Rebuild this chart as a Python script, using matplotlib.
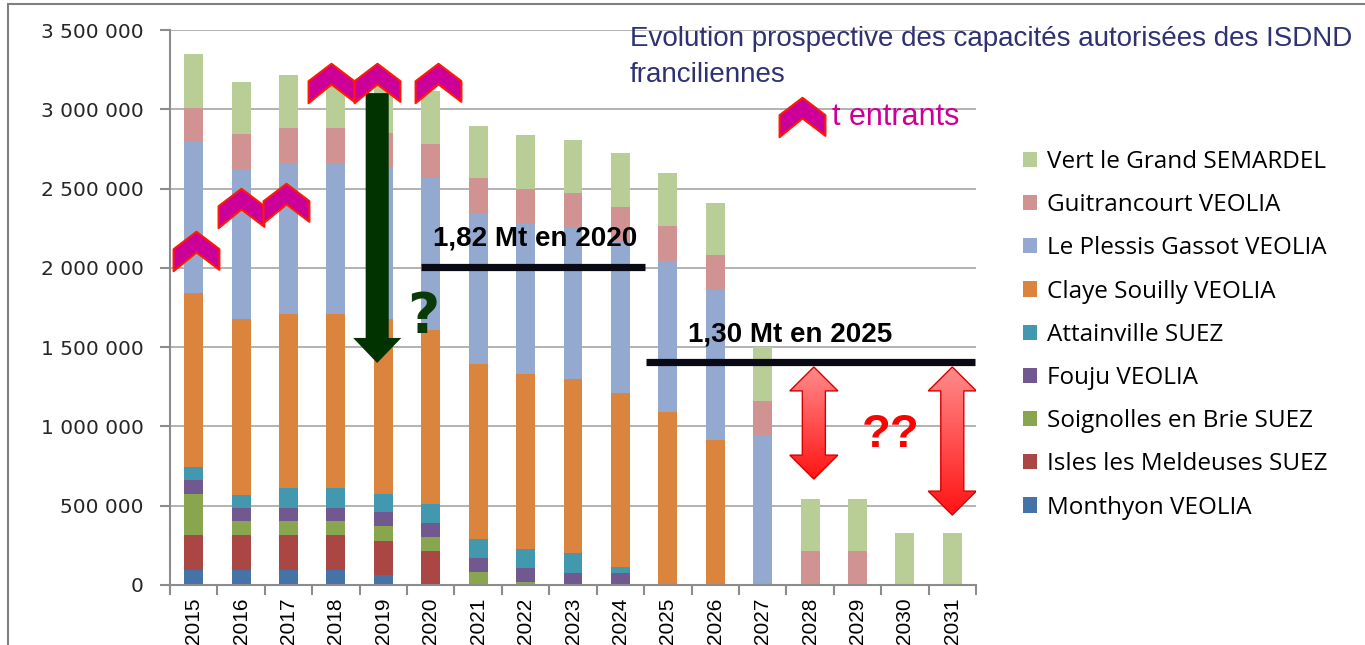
"""Evolution prospective des capacités autorisées des ISDND franciliennes."""
import numpy as np
import matplotlib; matplotlib.use('Agg')
import matplotlib.pyplot as plt
from matplotlib.patches import Patch, Polygon, Rectangle
from matplotlib.path import Path
from matplotlib.colors import LinearSegmentedColormap
from matplotlib.ticker import FuncFormatter


# ──────────────────────────────────────────────────────────────────────
# données (t/an), de bas en haut dans la pile
# ──────────────────────────────────────────────────────────────────────
years = [str(y) for y in range(2015, 2032)]

monthyon     = [95000, 95000, 95000, 95000, 63000, 0, 0, 0, 0, 0, 0, 0, 0, 0, 0, 0, 0]
isles        = [220000, 220000, 220000, 220000, 216000, 216000, 0, 0, 0, 0, 0, 0, 0, 0, 0, 0, 0]
soignolles   = [260000, 89000, 89000, 89000, 93000, 84000, 84000, 21000, 0, 0, 0, 0, 0, 0, 0, 0, 0]
fouju        = [88000, 83000, 83000, 83000, 88000, 89000, 88000, 88000, 78000, 78000, 0, 0, 0, 0, 0, 0, 0]
attainville  = [78000, 79000, 125000, 125000, 116000, 122000, 116000, 120000, 122000, 35000, 0, 0, 0, 0, 0, 0, 0]
claye        = [1100000, 1109000, 1097000, 1097000, 1101000, 1097000, 1105000, 1102000, 1099000, 1099000,
                1091000, 914000, 0, 0, 0, 0, 0]
plessis      = [955000, 946000, 954000, 954000, 952000, 956000, 946000, 954000, 950000, 953000,
                954000, 946000, 946000, 0, 0, 0, 0]
guitrancourt = [214000, 223000, 217000, 217000, 219000, 217000, 225000, 212000, 221000, 218000,
                218000, 221000, 216000, 214000, 214000, 0, 0]
vert         = [337000, 329000, 337000, 337000, 330000, 334000, 330000, 340000, 338000, 339000,
                337000, 330000, 337000, 328000, 328000, 330000, 330000]

names = ['Monthyon VEOLIA', 'Isles les Meldeuses SUEZ', 'Soignolles en Brie SUEZ',
         'Fouju VEOLIA', 'Attainville SUEZ', 'Claye Souilly VEOLIA',
         'Le Plessis Gassot VEOLIA', 'Guitrancourt VEOLIA', 'Vert le Grand SEMARDEL']
values = [monthyon, isles, soignolles, fouju, attainville, claye, plessis, guitrancourt, vert]
colors = ['#4572A7', '#AA4643', '#89A54E', '#71588F', '#4198AF', '#DB843D',
          '#93A9CF', '#D19392', '#B9CD96']

# annotations (position en années / tonnes)
chevron_pos = [(0.04, 2106000), (1.0, 2377000), (1.94, 2409000),
               (2.90, 3166000), (3.87, 3166000), (5.16, 3166000)]
legend_chevron = (12.82, 2951000)
seuils = [('1,82 Mt en 2020', 4.80, 9.52, 2007000, 5.04, 2144000),
          ('1,30 Mt en 2025', 9.54, 16.48, 1408000, 10.42, 1534000)]


W, H = 1365, 645
fig = plt.figure(figsize=(W / 100, H / 100), dpi=100)
ax = fig.add_axes([170 / W, (H - 585) / H, (976 - 170) / W, (585 - 30) / H])

x = np.arange(len(years))
bottom = np.zeros(len(years))
for name, vals, c in zip(names, values, colors):
    ax.bar(x, vals, width=0.4, bottom=bottom, color=c, linewidth=0, label=name, zorder=2)
    bottom += np.array(vals)

ax.set_xlim(-0.5, len(years) - 0.5)
ax.set_ylim(0, 3500000)
ax.set_yticks(np.arange(0, 3500001, 500000))
ax.yaxis.set_major_formatter(FuncFormatter(lambda v, p: f'{int(v):,}'.replace(',', ' ')))
ax.yaxis.grid(True, color='#A6A6A6', lw=1.2, zorder=0)
ax.set_axisbelow(True)
for s in ['top', 'right']:
    ax.spines[s].set_visible(False)
for s in ['left', 'bottom']:
    ax.spines[s].set_color('#8C8C8C'); ax.spines[s].set_linewidth(1.5)

ax.set_xticks(x)
ax.set_xticklabels(years, rotation=90, fontsize=15, family='Liberation Sans', va='top')
ax.set_xticks(np.arange(-0.5, len(years), 1), minor=True)
ax.tick_params(axis='x', which='major', length=0, pad=9)
ax.tick_params(axis='x', which='minor', length=7, color='#8C8C8C', width=1.5)
ax.tick_params(axis='y', length=7, color='#8C8C8C', width=1.5, pad=12, labelsize=14.5,
               labelcolor='#262626')

# ── chevrons "t entrants"
chev = Path([(-0.5, 0.05), (0, 0.43), (0.5, 0.05), (0.5, -0.40), (0, -0.02), (-0.5, -0.43), (-0.5, 0.05)],
            [Path.MOVETO] + [Path.LINETO] * 5 + [Path.CLOSEPOLY])
cx, cy = zip(*(chevron_pos + [legend_chevron]))
ax.plot(cx, cy, ls='none', marker=chev, markersize=33, mfc='#CC0099', mec='#FF1A00',
        mew=1.5, zorder=8, clip_on=False)


def arrow_verts(xc, yt, yb, shaft, head, hl_top, hl_bot):
    v = []
    if hl_top:
        v += [(xc, yt), (xc + head, yt - hl_top), (xc + shaft, yt - hl_top)]
    else:
        v += [(xc - shaft, yt), (xc + shaft, yt)]
    v += [(xc + shaft, yb + hl_bot), (xc + head, yb + hl_bot), (xc, yb),
          (xc - head, yb + hl_bot), (xc - shaft, yb + hl_bot)]
    if hl_top:
        v += [(xc - shaft, yt - hl_top), (xc - head, yt - hl_top)]
    return v


# ── flèche verte + "?"
ax.add_patch(Polygon(arrow_verts(3.87, 3102000, 1400000, 0.243, 0.507, 0, 158000),
                     closed=True, fc='#003300', ec='none', zorder=7))
ax.text(4.85, 1690000, '?', color='#0A3A0A', fontsize=40, fontweight='bold',
        family='DejaVu Sans', ha='center', va='center', zorder=7)

# ── seuils
for lbl, x0, x1, yv, tx, ty in seuils:
    ax.plot([x0, x1], [yv, yv], color='#0A0A14', lw=5.2, solid_capstyle='butt', zorder=6)
    ax.text(tx, ty, lbl, fontsize=20, fontweight='bold', family='Liberation Sans',
            ha='left', va='baseline', zorder=6)

# ── doubles flèches rouges (dégradé)
red_cmap = LinearSegmentedColormap.from_list('rouge', ['#FF8C8C', '#FF1414'])
grad = np.linspace(0, 1, 256).reshape(-1, 1)
for xc, yb in [(13.08, 668000), (16.0, 441000)]:
    poly = Polygon(arrow_verts(xc, 1375000, yb, 0.243, 0.507, 151000, 151000),
                   closed=True, fc='none', ec='#D80000', lw=1, zorder=7)
    ax.add_patch(poly)
    im = ax.imshow(grad, cmap=red_cmap, extent=[xc - 0.51, xc + 0.51, yb, 1375000],
                   origin='upper', aspect='auto', zorder=6)
    im.set_clip_path(poly)
ax.text(14.7, 946000, '??', color='#FF0000', fontsize=34, fontweight='bold',
        family='Liberation Sans', ha='center', va='center', zorder=7)

ax.set_xlim(-0.5, len(years) - 0.5)
ax.set_ylim(0, 3500000)

# ── titre
navy = '#2E3272'
fig.text(630 / W, 1 - 46 / H, 'Evolution prospective des capacités autorisées des ISDND',
         fontsize=20, color=navy, family='Liberation Sans', va='baseline')
fig.text(630 / W, 1 - 82 / H, 'franciliennes', fontsize=20, color=navy,
         family='Liberation Sans', va='baseline')
fig.text(832 / W, 1 - 125 / H, 't entrants', fontsize=22, color='#CC0099',
         family='Liberation Sans', va='baseline')

# ── légende
handles = [Patch(fc=c, ec='none') for c in colors[::-1]]
fig.legend(handles, names[::-1], loc='upper left', bbox_to_anchor=(1023 / W, 1 - 150 / H),
           frameon=False, prop=dict(family='Open Sans', size=17.5), handlelength=0.58,
           handleheight=0.58, handletextpad=0.42, labelspacing=0.79, borderpad=0,
           borderaxespad=0)

# cadre
fig.add_artist(Rectangle((8 / W, -0.05), 2, 1.05 - 4 / H, transform=fig.transFigure,
                         fill=False, ec='#808080', lw=1.5))

fig.savefig('out.png', dpi=100)
